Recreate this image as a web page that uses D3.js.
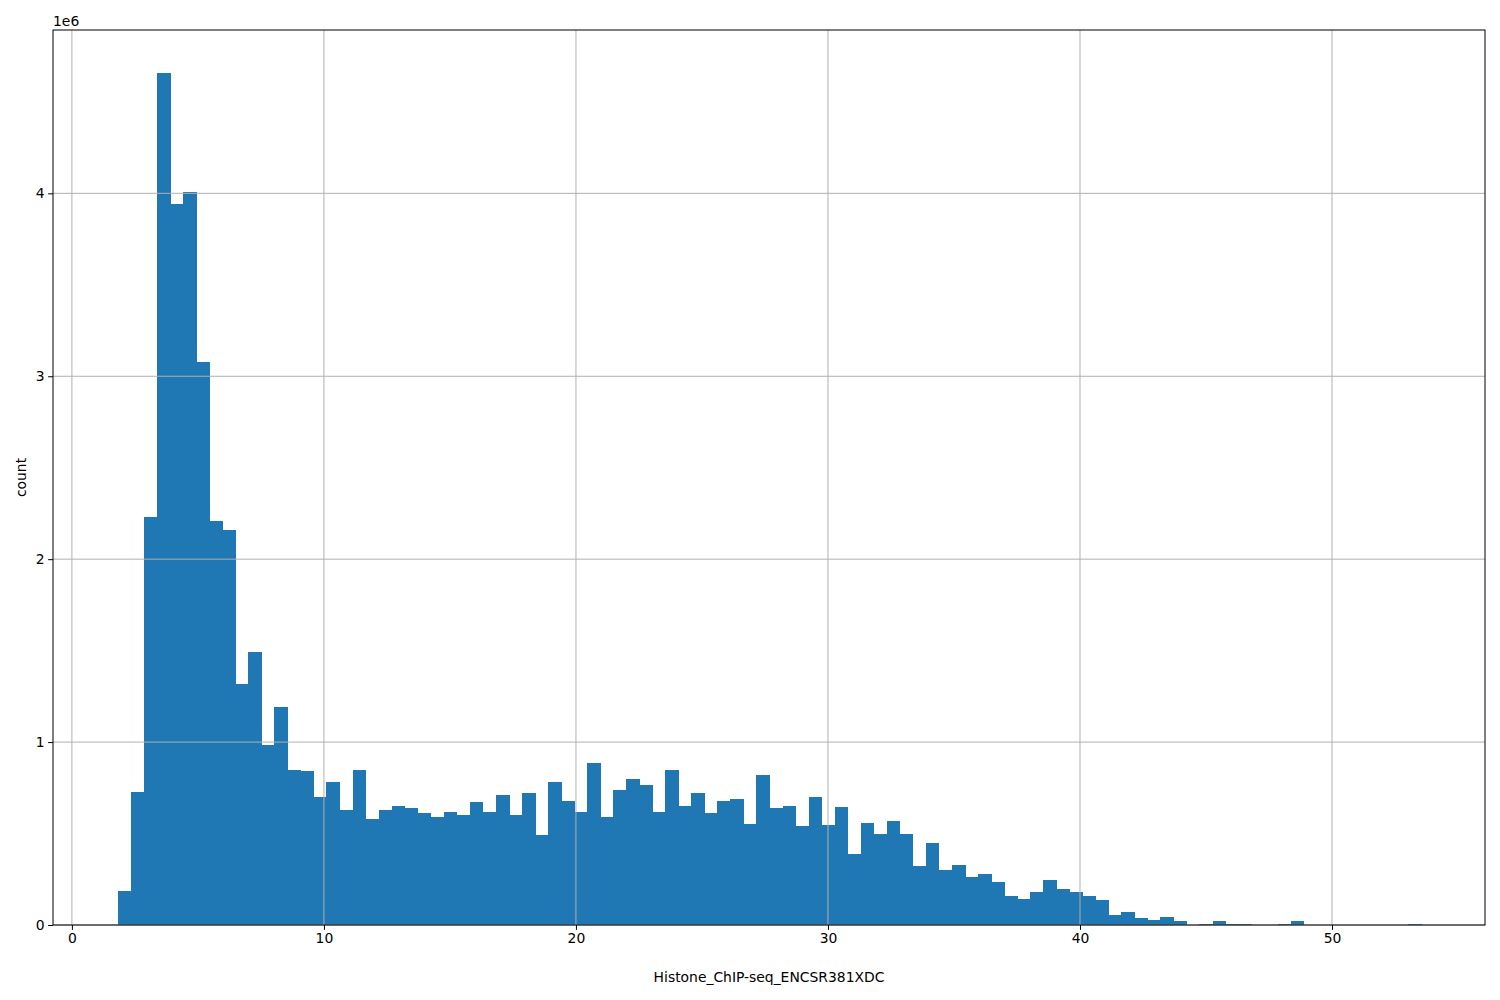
<!DOCTYPE html>
<html><head><meta charset="utf-8">
<script src="https://cdn.jsdelivr.net/npm/d3@7"></script>
<style>body{margin:0;background:#fff}text{font-family:"DejaVu Sans",sans-serif}</style>
</head><body>
<svg id="c" width="1500" height="1000"></svg>
<script>
const binStart = 1.83;
const binWidth = 0.517;
const counts = [0.186,0.727,2.23,4.66,3.94,4.01,3.08,2.21,2.16,1.32,1.49,0.984,1.19,0.85,0.84,0.70,0.78,0.63,0.85,0.58,
0.63,0.65,0.64,0.61,0.59,0.62,0.60,0.67,0.62,0.71,0.60,0.72,0.49,0.78,0.68,0.62,0.885,0.59,0.74,0.80,
0.765,0.62,0.85,0.65,0.72,0.61,0.68,0.69,0.55,0.82,0.64,0.65,0.54,0.70,0.545,0.645,0.39,0.56,0.50,0.57,
0.50,0.32,0.45,0.30,0.33,0.26,0.28,0.235,0.16,0.14,0.18,0.245,0.195,0.18,0.16,0.137,0.055,0.07,0.038,0.027,
0.044,0.022,0,0.005,0.022,0.005,0.005,0,0,0.005,0.022,0,0,0,0,0,0,0,0,0.005];
const xTicks = [0,10,20,30,40,50];
const yTicks = [0,1,2,3,4];
const xLabel = "Histone_ChIP-seq_ENCSR381XDC";
const yLabel = "count";

const FS = 13.9;
const svg = d3.select("#c");
const L=53,R=1485,T=30,B=925;
const x = d3.scaleLinear().domain([-0.75,56.07]).range([L,R]);
const y = d3.scaleLinear().domain([0,4.893]).range([B,T]);
const g = svg.append("g");
g.selectAll("rect.b").data(counts).join("rect")
 .attr("x",(d,i)=>x(binStart+i*binWidth)).attr("width",(d,i)=>x(binStart+(i+1)*binWidth)-x(binStart+i*binWidth)+0.6)
 .attr("y",d=>y(d)).attr("height",d=>B-y(d)).attr("fill","#1f77b4").attr("shape-rendering","crispEdges");
g.selectAll(".gx").data(xTicks).join("line").attr("x1",d=>x(d)).attr("x2",d=>x(d)).attr("y1",T).attr("y2",B).attr("stroke","#b0b0b0").attr("stroke-width",1);
g.selectAll(".gy").data(yTicks).join("line").attr("y1",d=>y(d)).attr("y2",d=>y(d)).attr("x1",L).attr("x2",R).attr("stroke","#b0b0b0").attr("stroke-width",1);
const xa = svg.append("g").attr("transform",`translate(0,${B})`).call(d3.axisBottom(x).tickValues(xTicks).tickFormat(d3.format("d")).tickSize(4.9).tickPadding(3.5));
const ya = svg.append("g").attr("transform",`translate(${L},0)`).call(d3.axisLeft(y).tickValues(yTicks).tickFormat(d3.format("d")).tickSize(4.9).tickPadding(3.5));
[xa,ya].forEach(a=>{a.select(".domain").remove();a.selectAll("text").attr("font-size",FS).attr("fill","#000").style("font-family","DejaVu Sans");a.selectAll("line").attr("stroke","#000");});
svg.append("rect").attr("x",L).attr("y",T).attr("width",R-L).attr("height",B-T).attr("fill","none").attr("stroke","#000").attr("stroke-width",1);
svg.append("text").attr("x",L).attr("y",T-4).attr("font-size",FS).text("1e6");
svg.append("text").attr("x",(L+R)/2).attr("y",982).attr("text-anchor","middle").attr("font-size",FS).text(xLabel);
svg.append("text").attr("transform",`translate(26,${(T+B)/2}) rotate(-90)`).attr("text-anchor","middle").attr("font-size",FS).text(yLabel);
</script></body></html>
